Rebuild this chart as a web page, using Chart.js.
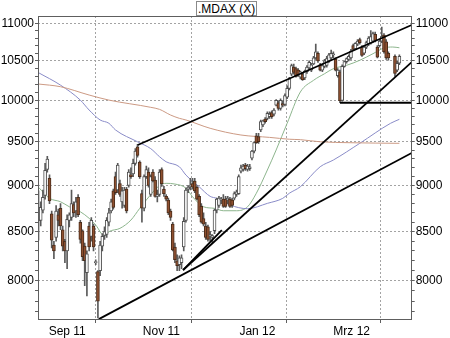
<!DOCTYPE html>
<html>
<head>
<meta charset="utf-8">
<script src="https://cdn.jsdelivr.net/npm/chart.js@4.4.1/dist/chart.umd.min.js"></script>
<style>
  html, body { margin: 0; padding: 0; background: #fff; }
  #wrap { position: relative; width: 450px; height: 338px; }
  #title {
    position: absolute; left: 196px; top: 1px; height: 13px; line-height: 13px;
    padding: 0 1px; border: 1px solid #8a8a8a; background: #fff; color: #000;
    font: 12px "Liberation Sans", Arial, sans-serif; white-space: nowrap;
  }
</style>
</head>
<body>
<div id="wrap">
  <canvas id="chart" width="450" height="338"></canvas>
  <div id="title">.MDAX (X)</div>
</div>
<script>
// daily candles, one per trading-day slot (null = no session)
const opens = [
  8720, 8620, 8730, 8890, 9180, 9080, 8690, 8360, 8440, 8680,
  8750, 8520, 8400, 8300, 8620, 8650, 8790, 8720, 8870, 8600,
  8510, 8350, 8080, 8560, 8450, 8560, 8180, 8090, 8100, 8350,
  8460, 8470, 8600, 8720, 8940, 9100, 8950, 9020, 8820, 8780,
  8960, 9000, 9120, 9130, 9250, 9440, 9265, 8910, 8750, 9100,
  9150, 8900, 9150, 9060, 8880, 8900, 9180, 8960, 8880, 8840,
  8720, 8580, 8340, 8200, 8160, 8180, 8340, 8620, 8960, 8990,
  9020, 9050, 8980, 8880, 8770, 8640, 8560, 8550, 8450, 8440,
  8510, 8730, 8780, 8840, 8850, 8850, 8840, 8850, 8840, 8860,
  8900, 8910, 9160, 9180, 9230, 9180, 9190, 9310, 9390, 9570,
  9560, 9640, 9700, 9770, 9780, 9800, 9850, 9830, 9940, 9970,
  9900, 9960, 9950, 10040, 10150, 10330, 10420, 10400, 10380, 10290,
  10330, 10280, 10360, 10410, 10380, 10460, 10540, 10600, 10450, 10380,
  10430, 10440, 10500, 10540, 10580, 10520, 10310, 10360, 10000, 10430,
  10490, 10520, 10540, 10700, 10660, 10720, 10780, 10680, 10600, 10680,
  10720, 10730, 10760, 10850, 10680, 10700, 10760, 10840, 10750, 10600,
  null, null, 10560, 10380, 10470
];
const highs = [
  8940, 8820, 8950, 9250, 9330, 9120, 8720, 8400, 8780, 8740,
  8800, 8560, 8420, 8680, 8700, 8950, 8820, 8870, 8900, 8620,
  8520, 8380, 8300, 8600, 8650, 8580, 8210, 8100, 8400, 8480,
  8550, 8650, 8750, 8850, 8960, 9150, 9250, 9060, 8980, 8980,
  8980, 9180, 9200, 9300, 9420, 9470, 9280, 8950, 9120, 9220,
  9200, 9120, 9180, 9100, 8950, 9180, 9200, 8990, 8900, 8860,
  8740, 8600, 8380, 8260, 8250, 8260, 8650, 8970, 9000, 9080,
  9080, 9080, 9000, 8900, 8800, 8700, 8600, 8570, 8500, 8470,
  8740, 8860, 8880, 8870, 8900, 8880, 8880, 8870, 8860, 8930,
  8950, 9120, 9230, 9240, 9250, 9240, 9240, 9400, 9500, 9600,
  9600, 9760, 9760, 9790, 9860, 9860, 9870, 9900, 10010, 9990,
  10020, 9990, 10080, 10180, 10290, 10460, 10460, 10420, 10400, 10370,
  10350, 10380, 10440, 10500, 10470, 10560, 10720, 10620, 10470, 10460,
  10520, 10560, 10600, 10640, 10620, 10540, 10400, 10380, 10450, 10500,
  10540, 10580, 10650, 10720, 10740, 10780, 10800, 10700, 10700, 10760,
  10820, 10900, 10880, 10880, 10700, 10780, 10950, 10860, 10780, 10620,
  null, null, 10580, 10500, 10580
];
const lows = [
  8410, 8560, 8700, 8850, 9150, 8800, 8330, 8220, 8400, 8560,
  8520, 8300, 8180, 8120, 8550, 8620, 8660, 8650, 8660, 8380,
  8200, 7950, 7850, 8300, 8400, 8300, 8160, 7640, 8050, 8300,
  8420, 8440, 8560, 8700, 8740, 8900, 8920, 8880, 8750, 8760,
  8700, 8980, 9080, 9100, 9230, 9320, 9080, 8600, 8720, 9080,
  8980, 8880, 9040, 8870, 8820, 8880, 8990, 8880, 8830, 8680,
  8620, 8300, 8180, 8100, 8100, 8120, 8300, 8600, 8920, 8950,
  8960, 8920, 8840, 8660, 8590, 8560, 8420, 8400, 8400, 8380,
  8480, 8700, 8760, 8800, 8760, 8760, 8800, 8760, 8760, 8840,
  8880, 8900, 9140, 9160, 9170, 9160, 9170, 9290, 9370, 9480,
  9480, 9620, 9680, 9720, 9760, 9780, 9780, 9810, 9930, 9880,
  9880, 9920, 9930, 10020, 10130, 10310, 10330, 10290, 10300, 10270,
  10250, 10260, 10340, 10390, 10360, 10450, 10520, 10480, 10370, 10360,
  10410, 10420, 10480, 10520, 10540, 10370, 10290, 9970, 9990, 10420,
  10470, 10500, 10520, 10640, 10650, 10700, 10720, 10560, 10580, 10660,
  10700, 10720, 10740, 10750, 10540, 10680, 10740, 10600, 10520, 10510,
  null, null, 10300, 10360, 10450
];
const closes = [
  8620, 8760, 8870, 9170, 9300, 8830, 8410, 8300, 8720, 8620,
  8560, 8350, 8300, 8630, 8680, 8800, 8700, 8820, 8680, 8420,
  8240, 8200, 8270, 8340, 8620, 8340, 8185, 7800, 8360, 8450,
  8500, 8620, 8700, 8820, 8760, 8920, 9230, 8900, 8940, 8950,
  8720, 9150, 9100, 9250, 9390, 9340, 9100, 8750, 9100, 9180,
  9000, 9100, 9050, 8880, 8900, 9150, 9020, 8910, 8850, 8700,
  8650, 8310, 8210, 8150, 8230, 8230, 8610, 8950, 8980, 9000,
  8980, 8940, 8850, 8680, 8600, 8580, 8440, 8420, 8470, 8460,
  8730, 8850, 8860, 8850, 8770, 8770, 8860, 8770, 8780, 8910,
  8930, 9100, 9200, 9220, 9190, 9220, 9210, 9390, 9490, 9490,
  9500, 9740, 9750, 9740, 9840, 9830, 9800, 9880, 10000, 9900,
  10000, 9940, 10060, 10150, 10270, 10440, 10350, 10300, 10320, 10360,
  10260, 10370, 10420, 10480, 10450, 10540, 10620, 10500, 10380, 10440,
  10500, 10530, 10580, 10600, 10590, 10380, 10380, 9995, 10430, 10490,
  10530, 10560, 10630, 10650, 10730, 10760, 10740, 10570, 10680, 10740,
  10800, 10820, 10860, 10770, 10550, 10760, 10820, 10620, 10540, 10540,
  null, null, 10340, 10470, 10560
];

// moving averages: [slot, value]
const maShort = [
  [0, 8980], [5, 8858], [10, 8821], [14, 8766], [19, 8712], [23, 8642],
  [26, 8570], [30, 8455], [32, 8500], [37, 8535], [42, 8623], [46, 8749],
  [49, 8840], [55, 9000], [58, 9024], [62, 9016], [67, 8971], [70, 8876],
  [75, 8766], [80, 8749], [84, 8723], [90, 8723], [95, 8766], [99, 8914],
  [104, 9174], [108, 9404], [113, 9720], [119, 10104], [125, 10251],
  [130, 10335], [134, 10400], [140, 10443], [146, 10508], [152, 10594],
  [157, 10669], [161, 10682], [164, 10672]
];
const maMid = [
  [0, 10348], [10, 10190], [19, 10003], [23, 9881], [28, 9760], [32, 9720],
  [35, 9640], [45, 9500], [51, 9420], [55, 9326], [58, 9268], [64, 9211],
  [67, 9117], [73, 8986], [78, 8880], [81, 8858], [87, 8785], [95, 8745],
  [104, 8803], [111, 8858], [114, 8914], [119, 8986], [128, 9211],
  [134, 9288], [146, 9482], [160, 9720], [164, 9768]
];
const maLong = [
  [0, 10204], [10, 10170], [23, 10066], [32, 10003], [51, 9914], [55, 9889],
  [60, 9820], [64, 9780], [67, 9760], [78, 9660], [92, 9580], [105, 9552],
  [114, 9530], [119, 9525], [128, 9500], [142, 9489], [164, 9482]
];

// trend lines drawn on the chart: [[slot, value], [slot, value]]
const trendLines = [
  [[45.1, 9462], [169.6, 10977]],
  [[27.4, 7628], [169.6, 9369]],
  [[65.7, 8106], [169.6, 10485]],
  [[65.7, 8106], [83.3, 8517]],
  [[137, 9970], [169.6, 9970]]
];

const monthSlots = [4.6, 47.4, 91.3, 134];
const monthLabels = ["Sep 11", "Nov 11", "Jan 12", "Mrz 12"];
const priceTicks = [];
for (let v = 7700; v <= 11000; v += 100) priceTicks.push(v);

const X_MIN = -0.23, X_MAX = 169.6;
const Y_MIN = 7620, Y_MAX = 11100;

const FONT = { family: '"Liberation Sans", Arial, sans-serif', size: 12 };
const GRID = "#a3a3a3";
const TICK = "#5e5e5e";
const DOWN = "#8f5030";

const wicks = [];
const bodies = [];
for (let i = 0; i < closes.length; i++) {
  if (closes[i] == null) continue;
  wicks.push({ x: i, y: [lows[i], highs[i]] });
  bodies.push({ x: i, y: [opens[i], closes[i]], up: closes[i] >= opens[i] });
}

const toXY = (pts) => pts.map(([x, y]) => ({ x, y }));

function maSet(pts, color) {
  return {
    type: "line", data: toXY(pts), borderColor: color, borderWidth: 1,
    pointRadius: 0, cubicInterpolationMode: "monotone", order: 3
  };
}

const datasets = [
  maSet(maLong, "#cc9a84"),
  maSet(maMid, "#8a8cc8"),
  maSet(maShort, "#8db58d"),
  {
    type: "bar", data: wicks, backgroundColor: "#5a5a5a", borderWidth: 0,
    barThickness: 1, grouped: false, order: 2
  },
  {
    type: "bar", data: bodies,
    backgroundColor: (c) => (c.raw && c.raw.up ? "#ffffff" : DOWN),
    borderColor: (c) => (c.raw && c.raw.up ? "#505050" : "#4a2c1a"),
    borderWidth: 1, borderSkipped: false, barThickness: 3, minBarLength: 1,
    grouped: false, order: 1
  }
];
trendLines.forEach((seg) => {
  datasets.push({
    type: "line", data: toXY(seg), borderColor: "#000", borderWidth: 1.8,
    pointRadius: 0, order: 0
  });
});

const frame = {
  id: "frame",
  afterDatasetsDraw(chart) {
    const { ctx, chartArea: a } = chart;
    ctx.save();
    ctx.strokeStyle = "#5e5e5e";
    ctx.lineWidth = 1;
    ctx.strokeRect(Math.round(a.left) + 0.5, Math.round(a.top) + 0.5,
      Math.round(a.right - a.left) - 1, Math.round(a.bottom - a.top) - 1);
    ctx.restore();
  }
};

function priceAxis(pos, width) {
  return {
    type: "logarithmic", position: pos, min: Y_MIN, max: Y_MAX, bounds: "data",
    afterBuildTicks: (s) => { s.ticks = priceTicks.map((v) => ({ value: v })); },
    afterFit: (s) => { s.width = width; },
    ticks: {
      autoSkip: false, padding: 1, color: "#000", font: FONT,
      callback: (v) => (v % 500 === 0 ? String(v) : "")
    },
    grid: {
      drawOnChartArea: pos === "left",
      color: (c) => (c.tick && c.tick.value % 500 === 0 ? GRID : "rgba(0,0,0,0)"),
      tickColor: TICK, tickLength: 3, lineWidth: 1
    },
    border: { display: false, dash: [2, 2] }
  };
}

new Chart(document.getElementById("chart"), {
  type: "bar",
  data: { datasets },
  plugins: [frame],
  options: {
    responsive: false,
    animation: false,
    events: [],
    layout: { padding: { top: 16, left: 0, right: 0, bottom: 0 } },
    plugins: { legend: { display: false }, tooltip: { enabled: false } },
    scales: {
      x: {
        type: "linear", min: X_MIN, max: X_MAX, bounds: "data", offset: false,
        afterBuildTicks: (s) => { s.ticks = monthSlots.map((v) => ({ value: v })); },
        afterFit: (s) => { s.height = 18; },
        ticks: {
          autoSkip: false, maxRotation: 0, align: "start", padding: 1,
          color: "#000", font: FONT,
          callback: (v, i) => monthLabels[i]
        },
        grid: { color: GRID, tickColor: TICK, tickLength: 3, lineWidth: 1 },
        border: { display: false, dash: [2, 2] }
      },
      y: priceAxis("left", 38),
      y2: priceAxis("right", 38.3)
    }
  }
});
</script>
</body>
</html>
